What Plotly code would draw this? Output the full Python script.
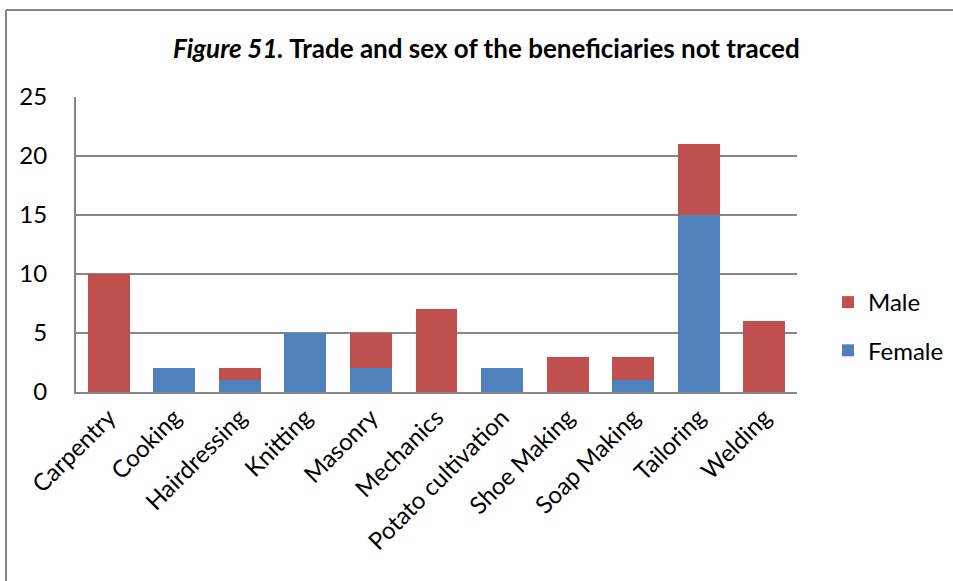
import plotly.graph_objects as go

# Trades and counts of untraced beneficiaries by sex
trades = ["Carpentry", "Cooking", "Hairdressing", "Knitting", "Masonry", "Mechanics",
          "Potato cultivation", "Shoe Making", "Soap Making", "Tailoring", "Welding"]
female = [0, 2, 1, 5, 2, 0, 2, 0, 1, 15, 0]
male = [10, 0, 1, 0, 3, 7, 0, 3, 2, 6, 6]
y_ticks = [0, 5, 10, 15, 20, 25]

BLUE = "#4F81BD"
RED = "#C0504D"
FONT = "Lato"

fig = go.Figure()
fig.add_trace(go.Bar(x=trades, y=female, name="Female", legendgroup="f", legendrank=2,
                     marker=dict(color=BLUE, line=dict(width=0))))
fig.add_trace(go.Bar(x=trades, y=male, name="Male", legendgroup="m", legendrank=1,
                     marker=dict(color=RED, line=dict(width=0))))

L, R, T, B = 76, 797, 97, 392
W, H = 953, 581

fig.update_layout(
    barmode="stack",
    bargap=0.36,
    width=W, height=H,
    margin=dict(l=L, r=W - R, t=T, b=H - B, autoexpand=False),
    paper_bgcolor="white",
    plot_bgcolor="white",
    font=dict(family=FONT, size=24, color="black"),
    showlegend=True,
    legend=dict(
        traceorder="grouped",
        x=(828 - L) / (R - L), xanchor="left",
        y=(B - 280) / (B - T), yanchor="top",
        font=dict(size=24),
        itemsizing="constant",
        tracegroupgap=14,
        bgcolor="rgba(0,0,0,0)",
    ),
    xaxis=dict(
        tickangle=-45,
        showline=True, linecolor="#868686", linewidth=2,
        ticks="", tickfont=dict(size=24),
        showgrid=False,
    ),
    yaxis=dict(
        range=[0, 25], tickvals=y_ticks,
        showgrid=True, gridcolor="#868686", gridwidth=1.5,
        showline=True, linecolor="#868686", linewidth=2,
        ticks="", tickfont=dict(size=24),
        zeroline=False,
        ticklabelstandoff=22,
    ),
)

fig.add_annotation(
    text="<b><i>Figure 51.</i> Trade and sex of the beneficiaries not traced</b>",
    xref="paper", yref="paper",
    x=(486 - L) / (R - L), y=(B - 48) / (B - T),
    xanchor="center", yanchor="middle",
    showarrow=False,
    font=dict(family=FONT, size=26, color="black"),
)

# Chart frame: left and top edges
fx = (6 - L) / (R - L)
fy = (B - 10) / (B - T)
fig.add_shape(type="line", xref="paper", yref="paper", x0=fx, x1=fx, y0=fy, y1=-1.0,
              line=dict(color="#868686", width=2))
fig.add_shape(type="line", xref="paper", yref="paper", x0=fx, x1=1.3, y0=fy, y1=fy,
              line=dict(color="#868686", width=2))

fig.write_html("out.html")
